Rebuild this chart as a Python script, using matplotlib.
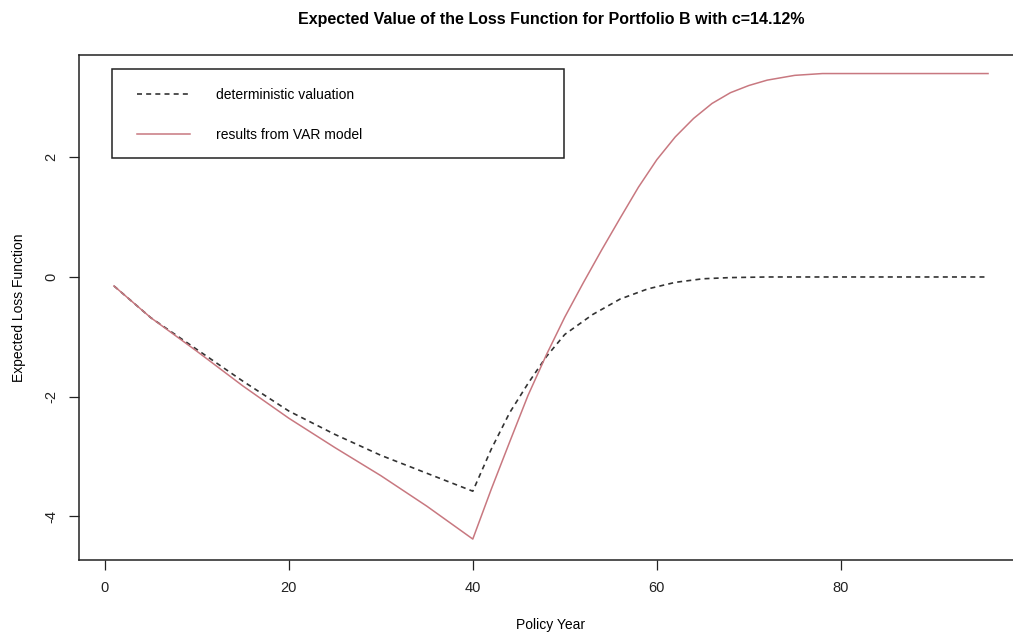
import matplotlib
matplotlib.use('Agg')
import matplotlib.pyplot as plt
from matplotlib.patches import Rectangle

plt.rcParams['font.family'] = ['Liberation Sans', 'DejaVu Sans']

# deterministic valuation (dashed)
det_years = [1, 5, 10, 15, 20, 25, 30, 35, 40, 42, 44, 46, 48, 50, 53, 56, 59, 62, 65, 68, 72, 80, 88, 96]
det_vals = [-0.15, -0.68, -1.21, -1.74, -2.24, -2.63, -2.98, -3.28, -3.58, -2.88, -2.27, -1.78, -1.33,
            -0.96, -0.63, -0.37, -0.2, -0.09, -0.03, -0.01, 0.0, 0.0, 0.0, 0.0]

# results from VAR model (solid)
var_years = [1, 5, 10, 15, 20, 25, 30, 35, 40, 42, 44, 46, 48, 50, 52, 54, 56, 58, 60, 62, 64, 66, 68,
             70, 72, 75, 78, 85, 96]
var_vals = [-0.15, -0.68, -1.24, -1.82, -2.36, -2.85, -3.32, -3.83, -4.38, -3.55, -2.76, -1.98, -1.3,
            -0.67, -0.1, 0.45, 0.98, 1.5, 1.96, 2.34, 2.65, 2.9, 3.08, 3.2, 3.29, 3.37, 3.4, 3.4, 3.4]

labels = ['deterministic valuation', 'results from VAR model']

fig = plt.figure(figsize=(10.13, 6.37), dpi=100)
# axes runs a little past the right edge like the original scan
ax = fig.add_axes([79 / 1013, 1 - 560 / 637, 944 / 1013, 505 / 637])

ax.plot(det_years, det_vals, color='#333333', lw=1.2, dashes=(3, 2.5), label=labels[0])
ax.plot(var_years, var_vals, color='#c87880', lw=1.1, label=labels[1])

ax.set_xlim(-2.8, 99.8)
ax.set_ylim(-4.73, 3.71)
ax.set_xticks([0, 20, 40, 60, 80])
ax.set_yticks([-4, -2, 0, 2])
ax.set_yticklabels(['-4', '-2', '0', '2'], rotation=90, va='center')
ax.tick_params(direction='out', length=7, width=0.9, labelsize=10.5, pad=8, colors='#222222')
for s in ax.spines.values():
    s.set_linewidth(1.1)
    s.set_color('#222222')

ax.set_xlabel('Policy Year', fontsize=10, labelpad=17)
ax.set_ylabel('Expected Loss Function', fontsize=10, labelpad=13)
ax.set_title('Expected Value of the Loss Function for Portfolio B with c=14.12%',
             fontsize=11.5, fontweight='bold', pad=22)

# R-style legend box, wider than its text
ax.add_patch(Rectangle((0.035, 0.796), 0.479, 0.176, transform=ax.transAxes,
                       fill=False, edgecolor='#222222', lw=1.1))
ax.legend(loc='upper left', bbox_to_anchor=(0.048, 0.96), frameon=False,
          fontsize=10, handlelength=3.8, handletextpad=1.9, labelspacing=1.9)

fig.savefig('out.png', dpi=100)
